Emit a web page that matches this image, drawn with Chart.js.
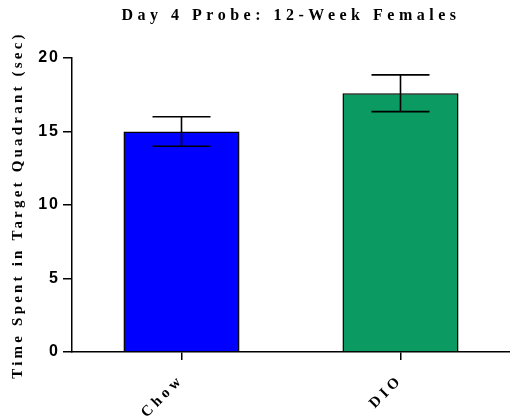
<!DOCTYPE html>
<html>
<head>
<meta charset="utf-8">
<script src="https://cdn.jsdelivr.net/npm/chart.js@4"></script>
<style>
html,body{margin:0;padding:0;background:#fff;}
#wrap{width:510px;height:416px;}
</style>
</head>
<body>
<div id="wrap"><canvas id="c" width="510" height="416"></canvas></div>
<script>
const categories = ["Chow", "DIO"];
const meanValues = [15.0, 17.6];
const errorValues = [1.0, 1.25];
const barColors = ["#0000ff", "#0a9a62"];
const yTicks = [0, 5, 10, 15, 20];
const chartTitle = "Day 4 Probe: 12-Week Females";
const yTitle = "Time Spent in Target Quadrant (sec)";

function withSpacing(obj, name, sp){
  if (obj['__p_' + name]) return;
  const orig = obj[name];
  obj[name] = function(){
    const prev = this.ctx.letterSpacing;
    this.ctx.letterSpacing = sp;
    const r = orig.apply(this, arguments);
    this.ctx.letterSpacing = prev || '0px';
    return r;
  };
  obj['__p_' + name] = true;
}

const spacingPlugin = {
  id: 'spacing',
  afterLayout(chart){
    if (chart.titleBlock) withSpacing(chart.titleBlock, 'draw', '4.5px');
    withSpacing(chart.scales.y, 'drawTitle', '3.2px');
    withSpacing(chart.scales.y, 'drawLabels', '2px');
    withSpacing(chart.scales.x, 'drawLabels', '4px');
  }
};

const errorBarPlugin = {
  id: 'errbars',
  afterDatasetsDraw(chart){
    const ctx = chart.ctx;
    const x = chart.scales.x, y = chart.scales.y;
    ctx.save();
    ctx.strokeStyle = '#000';
    ctx.lineWidth = 1.6;
    const half = 29;
    meanValues.forEach((m, i) => {
      const cx = x.getPixelForValue(i);
      const top = y.getPixelForValue(m + errorValues[i]);
      const bot = y.getPixelForValue(m - errorValues[i]);
      ctx.beginPath();
      ctx.moveTo(cx, top); ctx.lineTo(cx, bot);
      ctx.moveTo(cx - half, top); ctx.lineTo(cx + half, top);
      ctx.moveTo(cx - half, bot); ctx.lineTo(cx + half, bot);
      ctx.stroke();
    });
    ctx.restore();
  }
};

new Chart(document.getElementById('c'), {
  type: 'bar',
  data: {
    labels: categories,
    datasets: [{
      data: meanValues,
      backgroundColor: barColors,
      borderColor: '#000',
      borderWidth: 1.5,
      barPercentage: 0.53,
      categoryPercentage: 1.0
    }]
  },
  options: {
    responsive: false,
    animation: false,
    devicePixelRatio: 1,
    layout: { padding: { left: 0, right: 0, top: 0, bottom: 0 } },
    plugins: {
      legend: { display: false },
      tooltip: { enabled: false },
      title: {
        display: true,
        text: chartTitle,
        fullSize: false,
        color: '#000',
        font: { family: '"Liberation Serif", "Times New Roman", serif', size: 16, weight: 'bold', lineHeight: 1.2 },
        padding: { top: 6, bottom: 32.8 }
      }
    },
    scales: {
      x: {
        offset: true,
        grid: { display: true, offset: false, drawOnChartArea: false, drawTicks: true, tickLength: 8, color: '#000', lineWidth: 1.5 },
        border: { display: true, color: '#000', width: 1.5 },
        ticks: {
          color: '#000',
          minRotation: 45, maxRotation: 45,
          padding: 11,
          font: { family: '"Liberation Serif", "Times New Roman", serif', size: 15, weight: 'bold' }
        },
        afterFit(s){ s.height = 64; }
      },
      y: {
        min: 0, max: 20,
        afterBuildTicks(s){ s.ticks = yTicks.map(v => ({ value: v })); },
        grid: { display: true, drawOnChartArea: false, drawTicks: true, tickLength: 9, color: '#000', lineWidth: 1.5 },
        border: { display: true, color: '#000', width: 1.5 },
        ticks: {
          color: '#000',
          padding: 3,
          font: { family: '"Liberation Sans", Arial, sans-serif', size: 16, weight: 'bold' }
        },
        title: {
          display: true,
          text: yTitle,
          color: '#000',
          font: { family: '"Liberation Serif", "Times New Roman", serif', size: 15, weight: 'bold', lineHeight: 1.2 },
          padding: { top: 9, bottom: 0 }
        },
        afterFit(s){ s.width = 72; }
      }
    }
  },
  plugins: [spacingPlugin, errorBarPlugin]
});
</script>
</body>
</html>
